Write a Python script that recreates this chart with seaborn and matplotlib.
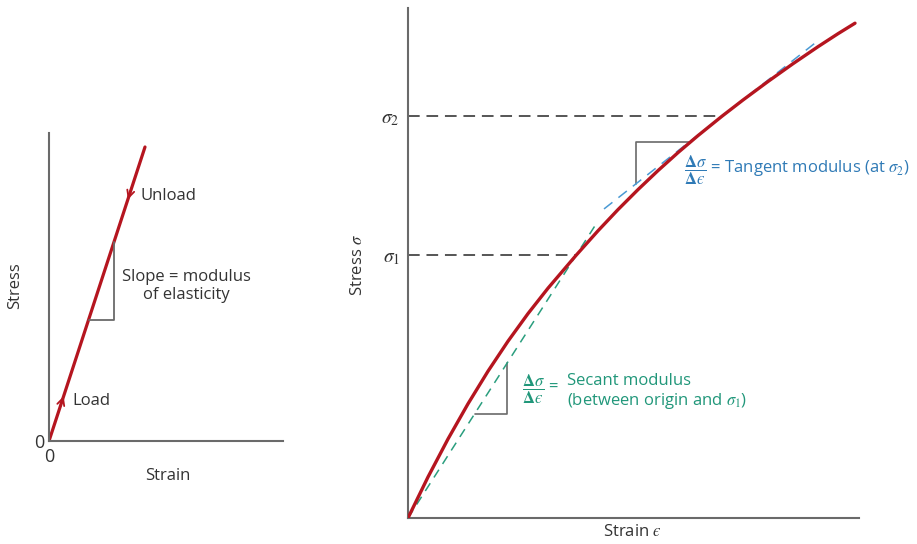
import numpy as np
import pandas as pd
import seaborn as sns
import matplotlib.pyplot as plt

# left panel: linear elastic loading line (strain, stress)
lin_strain = [0.0, 9.6]
lin_stress = [0.0, 29.4]

# right panel: non-linear stress-strain curve
curve_strain = [0, 2, 4, 6, 8, 10, 12, 14, 16.8, 19, 21, 23, 25, 27, 29, 31.4,
                33.5, 36, 38.5, 41, 43, 44.7]
curve_stress = [0, 4.10, 7.90, 11.42, 14.68, 17.68, 20.44, 22.98, 26.26, 28.72, 30.84,
                32.84, 34.74, 36.54, 38.24, 40.18, 41.80, 43.65, 45.43, 47.13, 48.43, 49.48]

# reference stresses and the strains where the curve reaches them
sigma_levels = [26.26, 40.18]
sigma_strains = [16.8, 31.4]
sigma_labels = [r"$\sigma_1$", r"$\sigma_2$"]

# secant line (origin -> sigma1) and tangent line (at sigma2)
secant_x = [0.0, 19.0]
tangent_x = [19.6, 41.0]
tangent_slope = 0.786

RED = "#b5151f"
GREEN = "#2a9e7e"
BLUE = "#4a9ad4"
BLUE_TXT = "#2f7ab6"
GREEN_TXT = "#21977a"
GREY = "#6a6a6a"
TXT = "#333333"

sns.set_style("white")
plt.rcParams["font.family"] = ["Open Sans", "DejaVu Sans"]
plt.rcParams["mathtext.fontset"] = "stix"

fig = plt.figure(figsize=(9.17, 5.44), dpi=100)
W, H = 917, 544

def px_axes(x0, y0, x1, y1):
    return fig.add_axes([x0 / W, 1 - y1 / H, (x1 - x0) / W, (y1 - y0) / H])

# ---------------- left panel ----------------
axl = px_axes(49, 133, 283, 441)
sns.lineplot(x=lin_strain, y=lin_stress, ax=axl, color=RED, lw=2.3)
axl.set_xlim(0, 23.4)
axl.set_ylim(0, 30.8)
slope = lin_stress[1] / lin_strain[1]

# slope triangle
y_low, x_vert = 12.1, 6.5
axl.plot([y_low / slope, x_vert, x_vert], [y_low, y_low, x_vert * slope], color=GREY, lw=1.3)

# load / unload arrows
for xa, xb in [(1.0, 1.55), (8.35, 7.8)]:
    axl.annotate("", xy=(xb, xb * slope), xytext=(xa, xa * slope),
                 arrowprops=dict(arrowstyle="->", color=RED, lw=1.3, mutation_scale=13))

axl.text(9.1, 24.5, "Unload", fontsize=12, color=TXT, va="center")
axl.text(2.3, 4.0, "Load", fontsize=12, color=TXT, va="center")
axl.text(13.75, 15.5, "Slope = modulus\nof elasticity", fontsize=12, color=TXT,
         ha="center", va="center", linespacing=1.15)

axl.set_xticks([0])
axl.set_yticks([0])
axl.set_xticklabels(["0"])
axl.set_yticklabels(["0"])
axl.tick_params(length=0, labelsize=13, labelcolor=TXT)
axl.tick_params(axis="x", pad=5)
axl.tick_params(axis="y", pad=3)
axl.set_xlabel("Strain", fontsize=12, color=TXT)
axl.set_ylabel("Stress", fontsize=12, color=TXT)
axl.xaxis.set_label_coords(0.509, -0.088)
axl.yaxis.set_label_coords(-0.112, 0.506)

# ---------------- right panel ----------------
axr = px_axes(408, 8, 859, 518)
curve = pd.DataFrame({"strain": curve_strain, "stress": curve_stress})
sns.lineplot(data=curve, x="strain", y="stress", ax=axr, color=RED, lw=2.4, zorder=5)
axr.set_xlim(0, 45.1)
axr.set_ylim(0, 51)

# horizontal dashed guides
for lvl, sx in zip(sigma_levels, sigma_strains):
    axr.plot([0, sx], [lvl, lvl], color="#555555", lw=1.4, dashes=(6, 3.5), zorder=2)

# secant line
sec_slope = sigma_levels[0] / sigma_strains[0]
sns.lineplot(x=secant_x, y=[v * sec_slope for v in secant_x], ax=axr,
             color=GREEN, lw=1.1, zorder=3).lines[-1].set_dashes((6, 4.5))

# tangent line
tan_y = [sigma_levels[1] + tangent_slope * (v - sigma_strains[1]) for v in tangent_x]
sns.lineplot(x=tangent_x, y=tan_y, ax=axr, color=BLUE, lw=1.1, zorder=3).lines[-1].set_dashes((7, 5))

# tangent triangle
tx0, ty_top, tx1 = 22.8, 37.6, 28.2
ty_low = sigma_levels[1] + tangent_slope * (tx0 - sigma_strains[1])
axr.plot([tx0, tx0, tx1], [ty_low, ty_top, ty_top], color=GREY, lw=1.2, zorder=2)

# secant triangle
sy_low, sx_vert = 10.4, 9.9
axr.plot([sy_low / sec_slope, sx_vert, sx_vert], [sy_low, sy_low, sx_vert * sec_slope],
         color=GREY, lw=1.2, zorder=2)

frac = "$\\dfrac{\\mathbf{\\Delta}\\sigma}{\\mathbf{\\Delta}ϵ}$"
axr.text(27.6, 34.8, frac + " = Tangent modulus (at $\\sigma_2$)",
         fontsize=12, color=BLUE_TXT, va="center")
axr.text(11.4, 12.9, frac + " =", fontsize=12, color=GREEN_TXT, va="center")
axr.text(15.9, 12.6, "Secant modulus\n(between origin and $\\sigma_1$)", fontsize=12,
         color=GREEN_TXT, va="center", linespacing=1.15)

axr.set_xticks([])
axr.set_yticks(sigma_levels)
axr.set_yticklabels(sigma_labels)
axr.tick_params(length=0, labelsize=14, labelcolor=TXT, pad=6)
axr.set_xlabel("Strain $ϵ$", fontsize=12, color=TXT)
axr.set_ylabel(r"Stress $\sigma$", fontsize=12, color=TXT)
axr.xaxis.set_label_coords(0.498, -0.012)
axr.yaxis.set_label_coords(-0.094, 0.496)

for ax in (axl, axr):
    sns.despine(ax=ax)
    for s in ("left", "bottom"):
        ax.spines[s].set_color(GREY)
        ax.spines[s].set_linewidth(1.5)

fig.savefig("out.png", dpi=100)
